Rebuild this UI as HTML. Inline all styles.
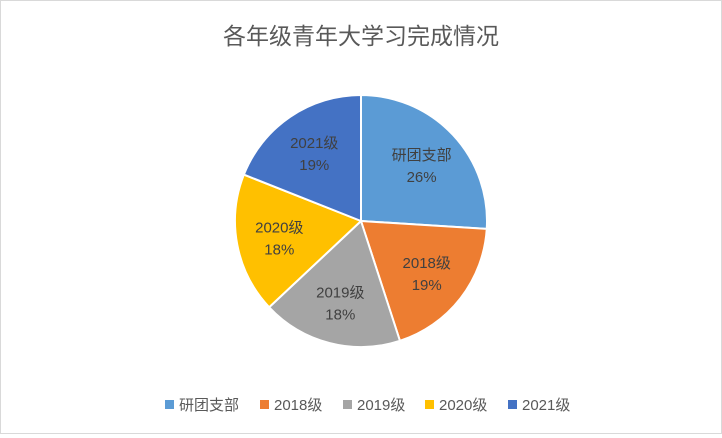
<!DOCTYPE html>
<html><head><meta charset="utf-8"><style>
body{margin:0;background:#fff;}
#c{position:relative;width:720px;height:432px;border:1px solid #d9d9d9;background:#fff;font-family:"Liberation Sans","Noto Sans CJK SC",sans-serif;}
</style></head><body>
<div id="c">
<svg id="s" width="720" height="432">
<text x="360" y="43" text-anchor="middle" font-size="23" fill="#595959" font-family="Liberation Sans, Noto Sans CJK SC, sans-serif">各年级青年大学习完成情况</text>
<g id="slices"></g><g id="labels"></g><g id="legend"></g>
</svg>
</div>
<script>
const categories=["研团支部","2018级","2019级","2020级","2021级"];
const values=[26,19,18,18,19];
const colors=["#5B9BD5","#ED7D31","#A5A5A5","#FFC000","#4472C4"];
const NS="http://www.w3.org/2000/svg";
const cx=360,cy=220,r=126;
const total=values.reduce((a,b)=>a+b,0);
const sg=document.getElementById('slices'),lg=document.getElementById('labels'),leg=document.getElementById('legend');
function pt(a,rr){return [cx+rr*Math.sin(a),cy-rr*Math.cos(a)];}
let acc=0;
values.forEach((v,i)=>{
 const a0=acc/total*2*Math.PI; acc+=v; const a1=acc/total*2*Math.PI;
 const p0=pt(a0,r),p1=pt(a1,r);
 const p=document.createElementNS(NS,'path');
 p.setAttribute('d',`M${cx},${cy}L${p0[0]},${p0[1]}A${r},${r} 0 ${a1-a0>Math.PI?1:0} 1 ${p1[0]},${p1[1]}Z`);
 p.setAttribute('fill',colors[i]);p.setAttribute('stroke','#fff');p.setAttribute('stroke-width','2');
 
 
 sg.appendChild(p);
 const m=(a0+a1)/2,lp=pt(m,r*0.66);
 [categories[i],Math.round(v/total*100)+'%'].forEach((s,k)=>{
  const t=document.createElementNS(NS,'text');
  t.setAttribute('x',lp[0]);t.setAttribute('y',lp[1]-4+k*22);
  t.setAttribute('text-anchor','middle');t.setAttribute('font-size','15');t.setAttribute('fill','#404040');
  t.textContent=s;
  
  
  lg.appendChild(t);
 });
});
const lx=[164,259,342,424,507];
categories.forEach((c,i)=>{
 const g=document.createElementNS(NS,'g');
 
 
 const q=document.createElementNS(NS,'rect');
 q.setAttribute('x',lx[i]);q.setAttribute('y',399);q.setAttribute('width',9);q.setAttribute('height',9);q.setAttribute('fill',colors[i]);
 g.appendChild(q);
 const t=document.createElementNS(NS,'text');
 t.setAttribute('x',lx[i]+14);t.setAttribute('y',409);t.setAttribute('font-size','15');t.setAttribute('fill','#595959');
 t.textContent=c;g.appendChild(t);leg.appendChild(g);
});
</script>
</body></html>
